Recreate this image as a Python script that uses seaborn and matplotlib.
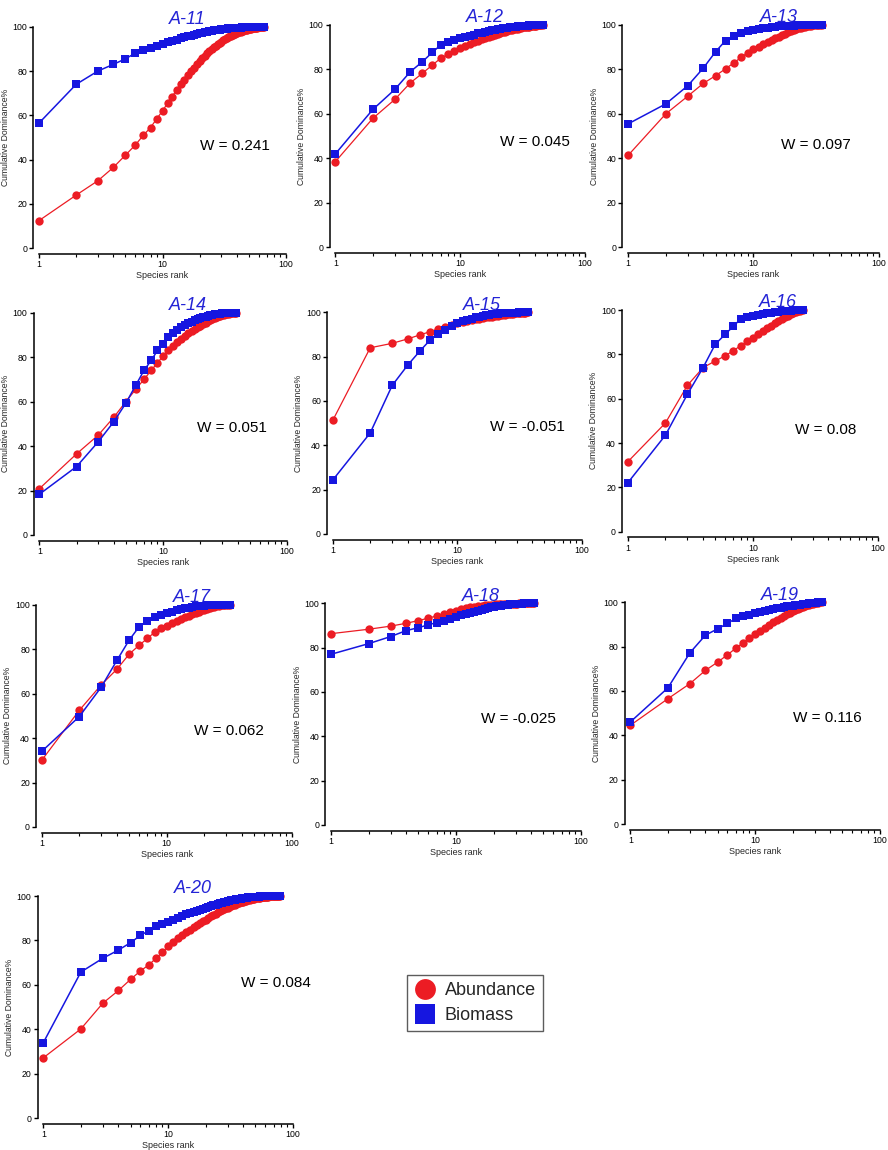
import numpy as np
import pandas as pd
import matplotlib
matplotlib.use("Agg")
import matplotlib.pyplot as plt
from matplotlib.lines import Line2D
from matplotlib.ticker import LogLocator, NullFormatter, FixedLocator, FixedFormatter
import seaborn as sns

# =============================================================================
# Data (cumulative % by species rank)
# =============================================================================
STATIONS = ["A-11", "A-12", "A-13", "A-14", "A-15", "A-16", "A-17", "A-18", "A-19", "A-20"]
W_VALUES = ["0.241", "0.045", "0.097", "0.051", "-0.051", "0.08", "0.062", "-0.025", "0.116", "0.084"]

abund_a11 = [12.5, 24, 30.5, 36.5, 42, 46.5, 51, 54.5, 58.5, 62, 65.5, 68.5, 71.5, 74, 76, 78, 80, 81.5, 83, 84.5,
             85.8, 87, 88, 89, 89.9, 90.7, 91.4, 92.1, 92.7, 93.3, 93.8, 94.3, 94.8, 95.2, 95.6, 96.0, 96.3, 96.6,
             96.9, 97.2, 97.4, 97.6, 97.8, 98.0, 98.2, 98.4, 98.5, 98.6, 98.8, 98.9, 99.0, 99.1, 99.2, 99.3, 99.4,
             99.5, 99.55, 99.6, 99.7, 99.75, 99.8, 99.85, 99.9, 99.95, 99.98, 100]
biom_a11 = [56.5, 74, 80, 83, 85.5, 88, 89.5, 90.5, 91.5, 92.3, 93, 93.6, 94.2, 94.7, 95.2, 95.6, 96, 96.4, 96.7, 97.0,
            97.3, 97.5, 97.7, 97.9, 98.1, 98.3, 98.4, 98.55, 98.7, 98.8, 98.9, 99.0, 99.1, 99.2, 99.25, 99.3, 99.35,
            99.4, 99.45, 99.5, 99.55, 99.6, 99.62, 99.65, 99.68, 99.7, 99.72, 99.75, 99.78, 99.8, 99.82, 99.84,
            99.86, 99.88, 99.9, 99.91, 99.92, 99.93, 99.94, 99.95, 99.96, 99.97, 99.98, 99.99, 99.995, 100]

abund_a12 = [38.5, 58, 66.5, 74, 78.3, 82, 85, 86.8, 88.3, 89.5, 90.5, 91.4,
             92.2, 92.9, 93.6, 94.2, 94.7, 95.2, 95.6, 96.0, 96.4, 96.7, 97.0, 97.3, 97.6, 97.8, 98.0, 98.2, 98.4,
             98.6, 98.75, 98.9, 99.0, 99.1, 99.2, 99.3, 99.4, 99.5, 99.6, 99.65, 99.7, 99.8, 99.85, 99.9, 99.95, 100]
biom_a12 = [42, 62, 71, 79, 83.5, 87.7, 91, 92.3, 93.2, 94, 94.6, 95.2,
            95.7, 96.2, 96.6, 97.0, 97.3, 97.6, 97.9, 98.1, 98.3, 98.5, 98.7, 98.85, 99.0, 99.1, 99.2, 99.3, 99.4,
            99.5, 99.55, 99.6, 99.65, 99.7, 99.75, 99.8, 99.83, 99.86, 99.89, 99.91, 99.93, 99.95, 99.97, 99.98,
            99.99, 100]

abund_a13 = [41.3, 60, 68, 73.8, 77.2, 80.3, 83, 85.5, 87.5, 89, 90.2, 91.3,
             92.3, 93.2, 94.0, 94.8, 95.5, 96.1, 96.7, 97.2, 97.7, 98.1, 98.5, 98.8, 99.1, 99.3, 99.5, 99.6, 99.7,
             99.8, 99.85, 99.9, 99.95, 99.98, 100]
biom_a13 = [55.5, 64.5, 72.7, 80.7, 88, 93, 95, 96.3, 97.2, 97.8, 98.2, 98.6,
            98.85, 99.05, 99.2, 99.35, 99.45, 99.55, 99.62, 99.68, 99.73, 99.78, 99.82, 99.85, 99.88, 99.9, 99.92,
            99.94, 99.95, 99.96, 99.97, 99.98, 99.99, 99.995, 100]

abund_a14 = [20.8, 36.5, 45, 53, 60, 65.5, 70, 74, 77.5, 80.5, 83, 85, 86.7, 88.2, 89.5,
             90.7, 91.7, 92.6, 93.4, 94.2, 94.9, 95.5, 96.1, 96.6, 97.1, 97.5, 97.9, 98.3, 98.6, 98.9, 99.1, 99.3,
             99.5, 99.6, 99.7, 99.8, 99.9, 99.95, 100]
biom_a14 = [18.3, 30.8, 42, 51, 59.3, 67.3, 74, 78.5, 83, 86, 89, 90.8, 92.2, 93.4, 94.4,
            95.2, 95.9, 96.5, 97.0, 97.5, 97.9, 98.2, 98.5, 98.8, 99.0, 99.2, 99.35, 99.5, 99.6, 99.7, 99.77, 99.83,
            99.88, 99.92, 99.95, 99.97, 99.98, 99.99, 100]

abund_a15 = [51.2, 84, 86, 88, 89.8, 91.2, 92.5, 93.5, 94.3, 95, 95.5, 96,
             96.4, 96.8, 97.1, 97.4, 97.7, 97.9, 98.1, 98.3, 98.5, 98.7, 98.85, 99.0, 99.1, 99.2, 99.3, 99.4, 99.5,
             99.6, 99.7, 99.75, 99.8, 99.85, 99.9, 99.95, 100]
biom_a15 = [24.3, 45.6, 67, 76.2, 82.5, 87.3, 90.2, 92.2, 93.8, 95, 95.9, 96.6,
            97.2, 97.7, 98.1, 98.4, 98.7, 98.9, 99.1, 99.25, 99.4, 99.5, 99.6, 99.65, 99.7, 99.75, 99.8, 99.84,
            99.87, 99.9, 99.92, 99.94, 99.96, 99.97, 99.98, 99.99, 100]

abund_a16 = [31.5, 49, 66, 74, 77, 79.3, 81.7, 83.9, 85.8, 87.5, 89, 90.4, 91.7, 92.9, 94, 95, 95.9, 96.7, 97.4,
             98, 98.5, 99, 99.4, 99.7, 100]
biom_a16 = [22, 43.5, 62, 74, 84.5, 89, 92.7, 96, 96.8, 97.4, 97.9, 98.3, 98.6,
            98.85, 99.05, 99.2, 99.35, 99.5, 99.6, 99.7, 99.8, 99.87, 99.93, 99.97, 100]

abund_a17 = [30, 52.5, 64, 71, 77.7, 81.7, 84.8, 87.6, 89.3, 90.5, 91.6, 92.6, 93.5,
             94.3, 95.0, 95.7, 96.3, 96.9, 97.4, 97.8, 98.2, 98.5, 98.8, 99.05, 99.3, 99.5, 99.65, 99.78, 99.88,
             99.94, 99.98, 100]
biom_a17 = [34, 49.7, 63, 75, 84, 90, 92.8, 94.3, 95.3, 96.2, 96.9, 97.5,
            98.0, 98.4, 98.7, 99.0, 99.2, 99.35, 99.5, 99.6, 99.7, 99.77, 99.83, 99.88, 99.92, 99.95, 99.97, 99.98,
            99.99, 99.995, 99.998, 100]

abund_a18 = [86.3, 88.3, 89.7, 91, 92.2, 93.3, 94.3, 95.2, 96, 96.7, 97.3, 97.8, 98.2,
             98.5, 98.75, 98.95, 99.1, 99.25, 99.35, 99.45, 99.52, 99.58, 99.63, 99.68, 99.72, 99.76, 99.8, 99.83,
             99.86, 99.88, 99.9, 99.92, 99.94, 99.95, 99.96, 99.97, 99.98, 99.985, 99.99, 99.995, 99.998, 100]
biom_a18 = [77, 81.8, 85, 87.7, 89, 90.3, 91.3, 92.2, 93, 93.8, 94.5, 95.1, 95.7, 96.2, 96.7,
            97.1, 97.5, 97.85, 98.15, 98.4, 98.65, 98.85, 99.0, 99.15, 99.28, 99.4, 99.5, 99.58, 99.65, 99.72,
            99.78, 99.83, 99.87, 99.9, 99.93, 99.95, 99.97, 99.98, 99.99, 99.995, 99.998, 100]

abund_a19 = [44.5, 56.5, 63.3, 69.3, 73, 76.3, 79.3, 81.7, 83.8, 85.5, 87.2, 88.6, 89.9, 91, 92,
             92.9, 93.8, 94.6, 95.3, 96.0, 96.6, 97.1, 97.6, 98.0, 98.4, 98.7, 99.0, 99.25, 99.45, 99.6, 99.75,
             99.87, 99.95, 100]
biom_a19 = [46, 61.4, 77.2, 85.2, 88, 90.5, 92.7, 93.6, 94.4, 95.1, 95.7, 96.2,
            96.6, 97.0, 97.35, 97.65, 97.9, 98.15, 98.35, 98.55, 98.7, 98.85, 99.0, 99.15, 99.3, 99.42, 99.54,
            99.65, 99.75, 99.83, 99.9, 99.95, 99.98, 100]

abund_a20 = [27.2, 40.2, 51.8, 57.5, 62.5, 66.3, 69, 72, 74.6, 77.5, 79.3, 80.9, 82.3, 83.6, 84.8, 85.9, 86.9,
             87.8, 88.6, 89.4,
             90.1, 90.8, 91.4, 92.0, 92.6, 93.1, 93.6, 94.0, 94.4, 94.8, 95.2, 95.5, 95.8, 96.1, 96.4, 96.7, 96.9,
             97.1, 97.3, 97.5, 97.7, 97.9, 98.05, 98.2, 98.35, 98.5, 98.6, 98.7, 98.8, 98.9, 99.0, 99.1, 99.18,
             99.26, 99.33, 99.4, 99.46, 99.52, 99.57, 99.62, 99.66, 99.7, 99.74, 99.78, 99.81, 99.84, 99.87, 99.89,
             99.91, 99.93, 99.95, 99.96, 99.97, 99.98, 99.99, 99.995, 99.998, 100]
biom_a20 = [34, 65.8, 72, 75.7, 79, 82.3, 84.4, 86.3, 87.5, 88.5, 89.4, 90.2, 91, 91.7, 92.3,
            92.9, 93.4, 93.9, 94.3, 94.7, 95.1, 95.5, 95.8, 96.1, 96.4, 96.7, 96.95, 97.2, 97.4, 97.6, 97.8, 98.0,
            98.15, 98.3, 98.45, 98.6, 98.7, 98.8, 98.9, 99.0, 99.1, 99.18, 99.26, 99.33, 99.4, 99.46, 99.52, 99.57,
            99.62, 99.66, 99.7, 99.73, 99.76, 99.79, 99.82, 99.84, 99.86, 99.88, 99.9, 99.91, 99.92, 99.93, 99.94,
            99.95, 99.96, 99.965, 99.97, 99.975, 99.98, 99.985, 99.99, 99.992, 99.994, 99.996, 99.997, 99.998,
            99.999, 100]

ABUNDANCE = [abund_a11, abund_a12, abund_a13, abund_a14, abund_a15,
             abund_a16, abund_a17, abund_a18, abund_a19, abund_a20]
BIOMASS = [biom_a11, biom_a12, biom_a13, biom_a14, biom_a15,
           biom_a16, biom_a17, biom_a18, biom_a19, biom_a20]

# =============================================================================
# Layout (pixel boxes of each plot area: x at rank 1, x at rank 100, y at 100%, y at 0%)
# =============================================================================
FIG_W, FIG_H = 888, 1150
PANEL_BOXES = [
    (39.0, 286.0, 26.7, 248.3), (335.3, 584.7, 25.0, 247.3), (628.0, 878.7, 25.0, 247.3),
    (39.3, 287.0, 312.7, 535.0), (332.7, 582.0, 312.3, 534.0), (627.7, 878.0, 310.0, 531.7),
    (41.7, 291.7, 604.7, 827.0), (331.0, 581.0, 603.3, 825.0), (630.3, 880.0, 602.3, 824.0),
    (43.3, 293.0, 896.0, 1118.3),
]
W_POS = [(0.65, 0.46), (0.66, 0.475), (0.61, 0.46), (0.635, 0.48), (0.63, 0.483),
         (0.67, 0.458), (0.61, 0.43), (0.60, 0.477), (0.65, 0.476), (0.79, 0.61)]

RED = "#ec1c24"
BLUE = "#1616e0"
TITLE_BLUE = "#2424d6"

sns.set_theme(style="ticks")
plt.rcParams["font.family"] = ["Liberation Sans", "DejaVu Sans"]


def draw_panel(ax, abund, biom, title, w_text, w_pos):
    df_a = pd.DataFrame({"rank": np.arange(1, len(abund) + 1), "value": abund})
    df_b = pd.DataFrame({"rank": np.arange(1, len(biom) + 1), "value": biom})
    sns.lineplot(data=df_a, x="rank", y="value", ax=ax, color=RED, marker="o", markersize=6.0,
                 markeredgewidth=0, linewidth=0.9, clip_on=False, zorder=3)
    sns.lineplot(data=df_b, x="rank", y="value", ax=ax, color=BLUE, marker="s", markersize=5.6,
                 markeredgewidth=0, linewidth=1.1, clip_on=False, zorder=4)

    ax.set_xscale("log")
    ax.set_xlim(1, 100)
    ax.set_ylim(0, 100)
    ax.xaxis.set_major_locator(FixedLocator([1, 10, 100]))
    ax.xaxis.set_major_formatter(FixedFormatter(["1", "10", "100"]))
    ax.xaxis.set_minor_locator(LogLocator(base=10, subs=np.arange(2, 10)))
    ax.xaxis.set_minor_formatter(NullFormatter())
    ax.set_yticks([0, 20, 40, 60, 80, 100])

    for side in ["top", "right"]:
        ax.spines[side].set_visible(False)
    for side in ["left", "bottom"]:
        ax.spines[side].set_position(("outward", 4))
        ax.spines[side].set_linewidth(1.1)
        ax.spines[side].set_color("black")

    ax.tick_params(axis="both", which="major", length=3, width=1.0, labelsize=6.3, pad=1.5, colors="black")
    ax.tick_params(axis="x", which="minor", length=2, width=0.8, colors="black")
    ax.set_xlabel("Species rank", fontsize=6.5, labelpad=1.5)
    ax.set_ylabel("Cumulative Dominance%", fontsize=6.2, labelpad=2)
    ax.set_title(title, color=TITLE_BLUE, fontsize=13, style="italic", x=0.6, y=1.0, pad=2)
    ax.text(w_pos[0], w_pos[1], f"W = {w_text}", transform=ax.transAxes, fontsize=11,
            ha="left", va="center", color="black")
    ax.grid(False)


def main():
    fig = plt.figure(figsize=(FIG_W / 100, FIG_H / 100), dpi=100)
    fig.patch.set_facecolor("white")

    for i, (x1, x100, ytop, ybot) in enumerate(PANEL_BOXES):
        rect = [x1 / FIG_W, 1 - ybot / FIG_H, (x100 - x1) / FIG_W, (ybot - ytop) / FIG_H]
        ax = fig.add_axes(rect)
        draw_panel(ax, ABUNDANCE[i], BIOMASS[i], STATIONS[i], W_VALUES[i], W_POS[i])

    handles = [
        Line2D([], [], linestyle="none", marker="o", markersize=15, color=RED, markeredgewidth=0),
        Line2D([], [], linestyle="none", marker="s", markersize=14, color=BLUE, markeredgewidth=0),
    ]
    leg = fig.legend(handles, ["Abundance", "Biomass"], loc="center",
                     bbox_to_anchor=(475 / FIG_W, 1 - 1003 / FIG_H), fontsize=13,
                     frameon=True, fancybox=False, handletextpad=0.5, borderpad=0.4,
                     labelspacing=0.45, handlelength=1.2)
    leg.get_frame().set_edgecolor("#333333")
    leg.get_frame().set_linewidth(1.0)

    fig.savefig("out.png", dpi=100, facecolor="white")
    plt.close(fig)


if __name__ == "__main__":
    main()
